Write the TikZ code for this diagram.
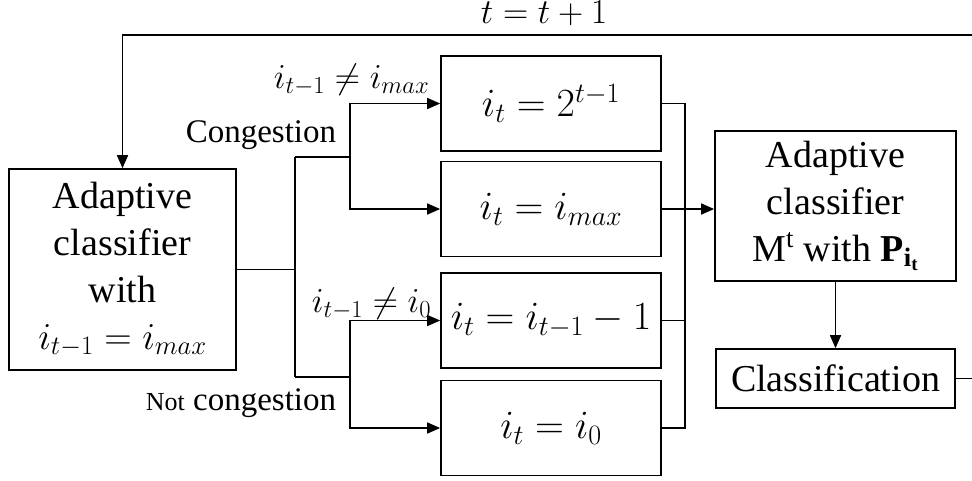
\documentclass[tikz,border=0pt]{standalone}
\usepackage{fix-cm}
\usepackage{amsmath}
\usepackage{fontspec}
\setmainfont{Liberation Serif}
\usetikzlibrary{arrows.meta}
\begin{document}
\begin{tikzpicture}[x=1pt,y=-1pt, line width=1.7pt,
  box/.style={draw, rectangle, inner sep=0pt, align=center},
  arr/.style={-{Triangle[length=13pt,width=11pt]}},
  txt/.style={font=\fontsize{38}{47}\selectfont},
  mth/.style={font=\fontsize{40}{48}\selectfont},
  lbl/.style={inner sep=0pt, font=\fontsize{35}{40}\selectfont},
  clbl/.style={inner sep=0pt, font=\fontsize{33}{38}\selectfont}]
\useasboundingbox (0,0) rectangle (972,480);
\clip (0,0) rectangle (972,480);
% nodes
\node[box, txt, minimum width=227pt, minimum height=201pt] (L) at (122.5,269.5)
  {Adaptive\\classifier\\with\\$i_{t-1}=i_{max}$};
\node[box, mth, minimum width=220pt, minimum height=95pt] (B1) at (551,103.5) {$i_t=2^{t-1}$};
\node[box, mth, minimum width=220pt, minimum height=95pt] (B2) at (551,209) {$i_t=i_{max}$};
\node[box, mth, minimum width=220pt, minimum height=95pt] (B3) at (551,320.5) {$i_t=i_{t-1}-1$};
\node[box, mth, minimum width=220pt, minimum height=95pt] (B4) at (551,428) {$i_t=i_0$};
\node[box, txt, minimum width=241pt, minimum height=150pt] (R) at (835.5,206)
  {Adaptive\\classifier\\M\textsuperscript{t} with $\textbf{P}_{\textbf{i}_{\textbf{t}}}$};
\node[box, txt, minimum width=239pt, minimum height=59pt] (C) at (835.5,378.5) {Classification};
% labels
\node[lbl, anchor=base] (tl) at (544,23) {$t=t+1$};
\node[lbl, anchor=base east] (l1) at (430,88) {$i_{t-1}\neq i_{max}$};
\node[lbl, anchor=base east] (l2) at (432,312) {$i_{t-1}\neq i_0$};
\node[clbl, anchor=base east] (c1) at (337,142) {Congestion};
\node[clbl, anchor=base east] (c2) at (337,410) {{\fontsize{26}{30}\selectfont Not} congestion};
% junctions
\coordinate (j) at (295,269.5);
\coordinate (ja) at (295,157);
\coordinate (jb) at (295,377);
\coordinate (ka) at (350,157);
\coordinate (kb) at (350,377);
\coordinate (r1) at (685,103.5);
\coordinate (r4) at (685,428);
\coordinate (fb) at (990,35);
% connectors
\draw (L.east) -- (j);
\draw (ja) -- (jb);
\draw (ja) -- (ka);
\draw (jb) -- (kb);
\draw[arr] (ka) |- (B1.west);
\draw[arr] (ka) |- (B2.west);
\draw[arr] (kb) |- (B3.west);
\draw[arr] (kb) |- (B4.west);
\draw (B1.east) -- (r1) -- (r4) -- (B4.east);
\draw (B3.east) -- (B3.east -| r1);
\draw[arr] (B2.east) -- (B2.east -| R.west);
\draw[arr] (R.south) -- (C.north);
\draw[arr] (C.east) -| (fb) -| (L.north);
\end{tikzpicture}
\end{document}
